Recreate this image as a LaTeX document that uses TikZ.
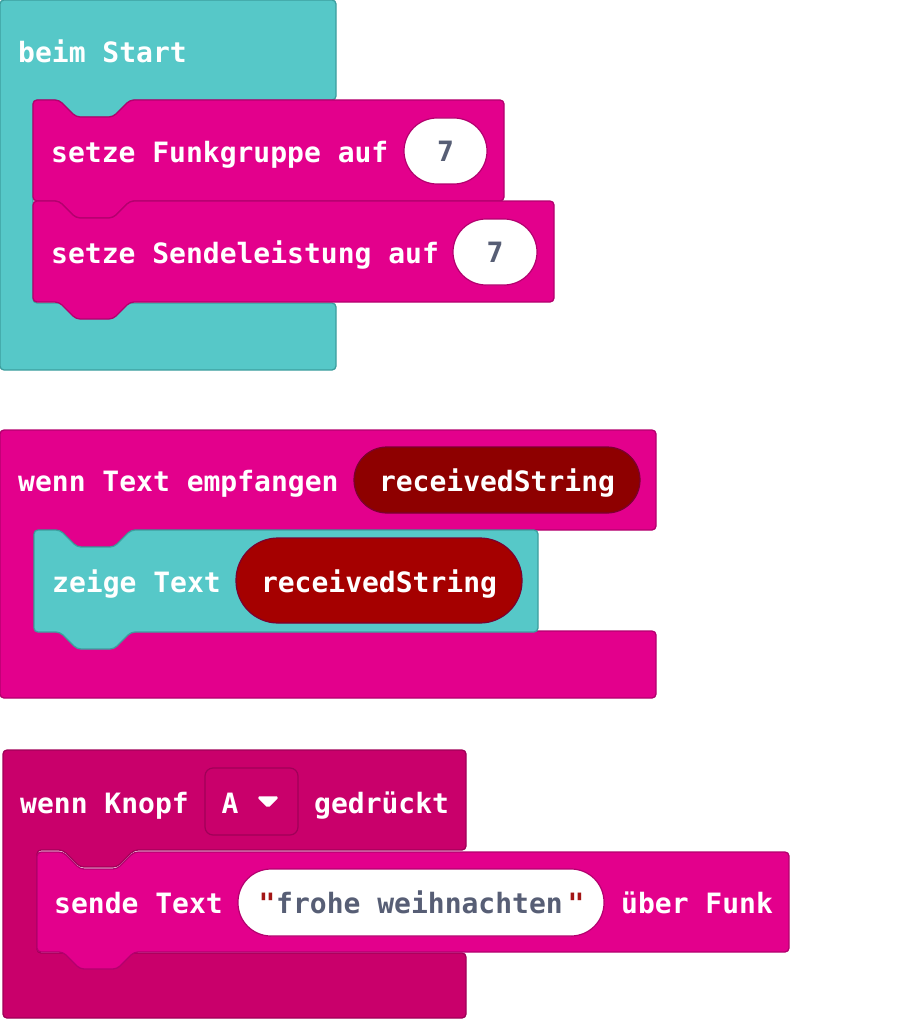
\documentclass[tikz,border=0pt]{standalone}
\usepackage{fontspec}
\newfontfamily\blkfont{DejaVu Sans Mono}
\definecolor{tealF}{HTML}{56C8C8}
\definecolor{tealD}{HTML}{3D9E9E}
\definecolor{pinkF}{HTML}{E3008C}
\definecolor{pinkD}{HTML}{B3006E}
\definecolor{magF}{HTML}{C9006B}
\definecolor{magD}{HTML}{A00058}
\definecolor{varH}{HTML}{8E0000}
\definecolor{varI}{HTML}{A50000}
\definecolor{varD}{HTML}{7A0030}
\definecolor{grayT}{HTML}{575E75}
\definecolor{quoteR}{HTML}{A31515}
\newcommand\stmtblock[5]{%
  \draw[#1] (#2,#3) -- (#2+26,#3) -- (#2+43,#3+17) -- (#2+80,#3+17) -- (#2+97,#3)
    -- (#4,#3) -- (#4,#5) -- (#2+97,#5) -- (#2+80,#5+17) -- (#2+43,#5+17)
    -- (#2+26,#5) -- (#2,#5) -- cycle;}
% #1 style, #2 x0, #3 y0, #4 x1, #5 ya (inner top), #6 arm x, #7 yb (arm top), #8 ye (bottom)
\newcommand\cblock[8]{%
  \draw[#1] (#2,#3) -- (#4,#3) -- (#4,#5) -- (#6+97,#5) -- (#6+80,#5+17) -- (#6+43,#5+17)
    -- (#6+26,#5) -- (#6,#5) -- (#6,#7) -- (#4,#7) -- (#4,#8) -- (#2,#8) -- cycle;}
\tikzset{
  blk/.style={line width=1.3pt, rounded corners=4, line join=round},
  tealblk/.style={blk, fill=tealF, draw=tealD},
  pinkblk/.style={blk, fill=pinkF, draw=pinkD},
  magblk/.style={blk, fill=magF, draw=magD},
  lbl/.style={anchor=base west, inner sep=0, text=white, font=\blkfont\bfseries\fontsize{28}{32}\selectfont},
  ctr/.style={anchor=base, inner sep=0, font=\blkfont\bfseries\fontsize{28}{32}\selectfont},
  numpill/.style={fill=white, draw=pinkD, line width=1.2pt},
}
\begin{document}
\begin{tikzpicture}[x=1pt, y=-1pt]
\useasboundingbox (0,0) rectangle (897,1019);
% ---------- beim Start ----------
\cblock{tealblk}{0}{0}{336}{100}{33}{303}{370}
\stmtblock{pinkblk}{33}{100}{504}{201}
\stmtblock{pinkblk}{33}{201}{554}{302}
\node[lbl] (start) at (18,63) {beim Start};
\node[lbl] (funk) at (51,163) {setze Funkgruppe auf};
\draw[numpill, rounded corners=33] (404,118) rectangle (487,184);
\node[ctr, text=grayT] (n1) at (445.5,162) {7};
\node[lbl] (send) at (51,263) {setze Sendeleistung auf};
\draw[numpill, rounded corners=33] (453,219) rectangle (537,285);
\node[ctr, text=grayT] (n2) at (495,262) {7};
% ---------- wenn Text empfangen ----------
\cblock{pinkblk}{0}{430}{656}{530}{34}{631}{698}
\stmtblock{tealblk}{34}{530}{538}{632}
\node[lbl] (empf) at (18,491) {wenn Text empfangen};
\draw[fill=varH, draw=varD, line width=1.2pt, rounded corners=33] (354,447) rectangle (640,513);
\node[ctr, text=white] (rs1) at (497,491) {receivedString};
\node[lbl] (zeige) at (52,592) {zeige Text};
\draw[fill=varI, draw=varD, line width=1.2pt, rounded corners=42] (236,538) rectangle (522,623);
\node[ctr, text=white] (rs2) at (379,592) {receivedString};
% ---------- wenn Knopf ----------
\cblock{magblk}{3}{750}{466}{850}{37}{953}{1018}
\stmtblock{pinkblk}{37}{852}{789}{952}
\node[lbl] (knopf) at (20,813) {wenn Knopf};
\draw[fill=magF, draw=magD, line width=1.2pt, rounded corners=8] (205,768) rectangle (298,835);
\node[ctr, text=white] (a) at (230,813) {A};
\draw[fill=white, draw=white, line width=1.5pt, line join=round, rounded corners=1.5] (258,797) -- (278,797) -- (268,807) -- cycle;
\node[lbl] (gedr) at (314,813) {gedrückt};
\node[lbl] (sende) at (54,913) {sende Text};
\draw[fill=white, draw=pinkD, line width=1.2pt, rounded corners=33] (238,869) rectangle (604,936);
\node[ctr, text=quoteR] (q1) at (267,913) {"};
\node[anchor=base west, inner sep=0, text=grayT, font=\blkfont\bfseries\fontsize{28}{32}\selectfont] (str) at (276,913) {frohe weihnachten};
\node[ctr, text=quoteR] (q2) at (576,913) {"};
\node[lbl] (ueber) at (621,913) {über Funk};
\end{tikzpicture}
\end{document}
